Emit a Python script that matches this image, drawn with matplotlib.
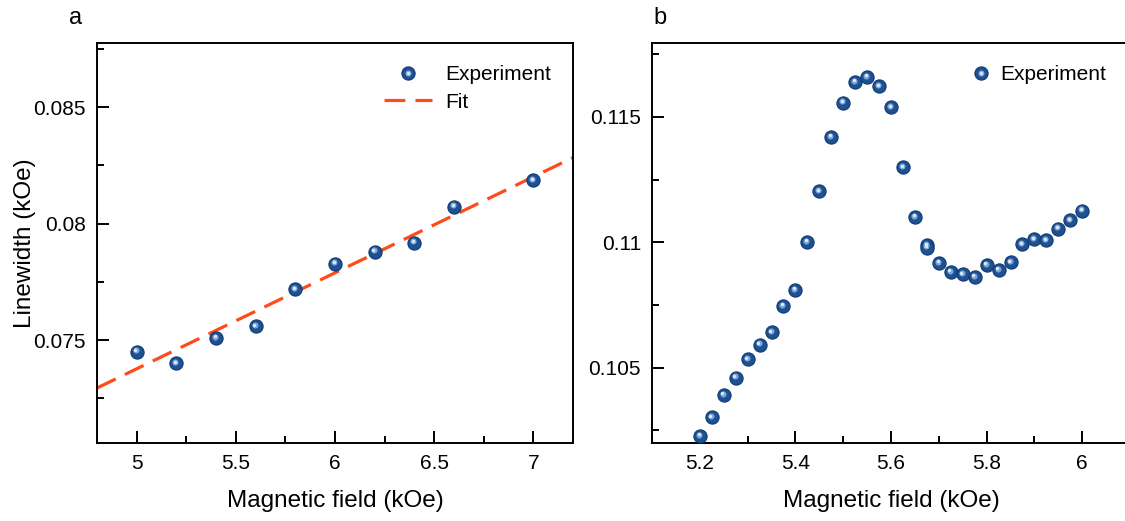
import matplotlib
matplotlib.use("Agg")
import matplotlib.pyplot as plt
import matplotlib.transforms as mtransforms
from matplotlib.lines import Line2D
from matplotlib.legend_handler import HandlerTuple
from matplotlib.ticker import MultipleLocator

plt.rcParams['font.family'] = ['Liberation Sans', 'DejaVu Sans']

# ---- data: panel a ----
a_field = [5.0, 5.2, 5.4, 5.6, 5.8, 6.0, 6.2, 6.4, 6.6, 7.0]
a_width = [0.07450, 0.07400, 0.07509, 0.07559, 0.07719, 0.07828, 0.07880, 0.07918, 0.08073, 0.08185]
fit_field = [4.8, 7.2]
fit_width = [0.07294, 0.08283]

# ---- data: panel b ----
b_field = [5.2, 5.225, 5.25, 5.275, 5.3, 5.325, 5.35, 5.375, 5.4, 5.425,
           5.45, 5.475, 5.5, 5.525, 5.55, 5.575, 5.6, 5.625, 5.65, 5.675,
           5.675, 5.7, 5.725, 5.75, 5.775, 5.8, 5.825, 5.85, 5.875, 5.9,
           5.925, 5.95, 5.975, 6.0]
b_width = [0.10229, 0.10302, 0.10392, 0.10461, 0.10533, 0.10592, 0.10642, 0.10747, 0.10811, 0.11002,
           0.11204, 0.11421, 0.11557, 0.11640, 0.11660, 0.11623, 0.11539, 0.11299, 0.11102, 0.10989,
           0.10979, 0.10918, 0.10882, 0.10873, 0.10863, 0.10910, 0.10890, 0.10920, 0.10992, 0.11012,
           0.11009, 0.11055, 0.11088, 0.11127]

W, H = 1125, 521
fig = plt.figure(figsize=(W/100, H/100), dpi=100)

def px_axes(x0, x1, y0, y1):
    return fig.add_axes([x0/W, (H-y1)/H, (x1-x0)/W, (y1-y0)/H])

axA = px_axes(97, 573, 43, 443)
axB = px_axes(652, 1130, 43, 443)

BASE = '#1D5194'
EDGE = '#0E3A73'
MID = '#7FA3D1'
HIGH = '#DCE7F5'
FIT = '#FF4A1C'
MS = 9.5

def spheres(ax, x, y):
    ax.plot(x, y, 'o', ms=MS, mfc=BASE, mec=EDGE, mew=0.8, zorder=3, clip_on=False)
    off = mtransforms.offset_copy(ax.transData, fig=fig, x=-1.0, y=1.2, units='dots')
    ax.plot(x, y, 'o', ms=4.4, mfc=MID, mec='none', zorder=4, transform=off, clip_on=False)
    off2 = mtransforms.offset_copy(ax.transData, fig=fig, x=-1.3, y=1.5, units='dots')
    ax.plot(x, y, 'o', ms=2.5, mfc=HIGH, mec='none', zorder=5, transform=off2, clip_on=False)

def sphere_handle():
    h1 = Line2D([], [], ls='none', marker='o', ms=MS, mfc=BASE, mec=EDGE, mew=0.8)
    h2 = Line2D([], [], ls='none', marker='o', ms=4.4, mfc=MID, mec='none')
    h3 = Line2D([], [], ls='none', marker='o', ms=2.5, mfc=HIGH, mec='none')
    return (h1, h2, h3)

hmap = {tuple: HandlerTuple(ndivide=1, pad=0)}

# panel a
spheres(axA, a_field, a_width)
axA.plot(fit_field, fit_width, color=FIT, lw=2.3, dashes=(6.5, 3.2), zorder=2)
axA.set_xlim(4.8, 7.2)
axA.set_ylim(0.07058, 0.08775)
axA.xaxis.set_minor_locator(MultipleLocator(0.25))
axA.yaxis.set_minor_locator(MultipleLocator(0.0025))
axA.set_xticks([5, 5.5, 6, 6.5, 7])
axA.set_xticklabels(['5', '5.5', '6', '6.5', '7'])
axA.set_yticks([0.075, 0.08, 0.085])
axA.set_yticklabels(['0.075', '0.08', '0.085'])
axA.set_xlabel('Magnetic field (kOe)', fontsize=17.5, labelpad=12)
axA.set_ylabel('Linewidth (kOe)', fontsize=17.5, labelpad=-2)
fit_handle = Line2D([], [], color=FIT, lw=2.3, dashes=(6.5, 3.2))
axA.legend([sphere_handle(), fit_handle], ['Experiment', 'Fit'],
           handler_map=hmap,
           loc='upper left', bbox_to_anchor=(0.603, 0.944), frameon=False,
           fontsize=15, handlelength=2.3, handletextpad=0.62, labelspacing=0.4,
           borderaxespad=0, borderpad=0)

# panel b
spheres(axB, b_field, b_width)
axB.set_xlim(5.1, 6.1)
axB.set_ylim(0.1020, 0.11795)
axB.xaxis.set_minor_locator(MultipleLocator(0.1))
axB.yaxis.set_minor_locator(MultipleLocator(0.0025))
axB.set_xticks([5.2, 5.4, 5.6, 5.8, 6.0])
axB.set_xticklabels(['5.2', '5.4', '5.6', '5.8', '6'])
axB.set_yticks([0.105, 0.11, 0.115])
axB.set_yticklabels(['0.105', '0.11', '0.115'])
axB.set_xlabel('Magnetic field (kOe)', fontsize=17.5, labelpad=12)
axB.legend([sphere_handle()], ['Experiment'],
           handler_map=hmap,
           loc='upper left', bbox_to_anchor=(0.671, 0.945), frameon=False,
           fontsize=15, handlelength=0.8, handletextpad=0.5, borderaxespad=0,
           borderpad=0)

for ax in (axA, axB):
    for s in ax.spines.values():
        s.set_linewidth(1.4)
    ax.tick_params(which='both', direction='in', width=1.4, labelsize=15)
    ax.tick_params(which='major', length=8.5, pad=8)
    ax.tick_params(which='minor', length=5)

fig.text(76/W, 1 - 18/H, 'a', fontsize=17, ha='center', va='center')
fig.text(660/W, 1 - 18/H, 'b', fontsize=17, ha='center', va='center')

fig.savefig('out.png', dpi=100)
